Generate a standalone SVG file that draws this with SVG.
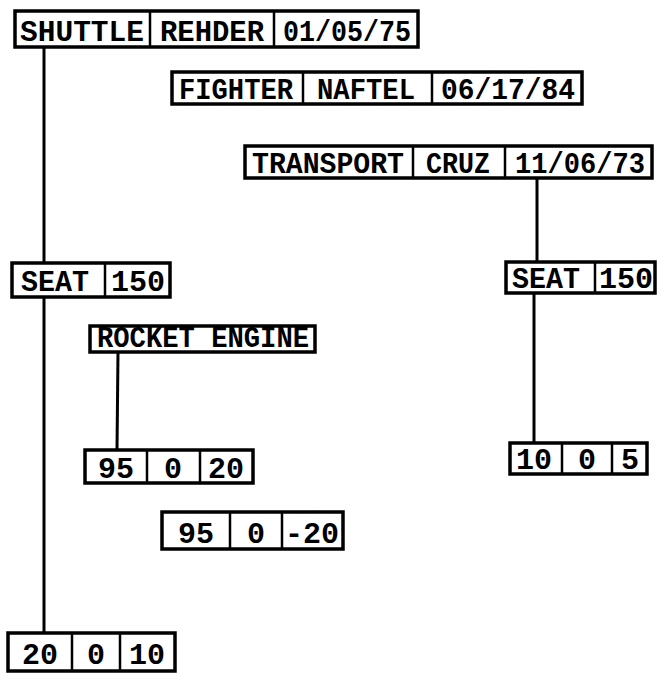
<svg xmlns="http://www.w3.org/2000/svg" width="660" height="674" viewBox="0 0 660 674">
<style>
.b{fill:#fff;stroke:#000;stroke-width:3.5}
.d{stroke:#000;stroke-width:2.5}
.t{font-family:"Liberation Mono","DejaVu Sans Mono",monospace;font-size:30px;font-weight:bold;fill:#000;text-anchor:middle}
.c{stroke:#000;stroke-width:3;fill:none}
</style>
<rect width="660" height="674" fill="#fff"/>
<g id="connectors">
<line class="c" x1="44" y1="47" x2="44" y2="263"/>
<line class="c" x1="44" y1="297" x2="44" y2="633"/>
<line class="c" x1="118" y1="352" x2="117" y2="450"/>
<line class="c" x1="537" y1="178" x2="537" y2="262"/>
<line class="c" x1="534" y1="293" x2="534" y2="443"/>
</g>
<g id="shuttle">
<rect class="b" x="15" y="11" width="403" height="36"/>
<line class="d" x1="150" y1="11" x2="150" y2="47"/><line class="d" x1="274" y1="11" x2="274" y2="47"/>
<text class="t" x="82" y="41" textLength="124" lengthAdjust="spacingAndGlyphs">SHUTTLE</text><text class="t" x="212" y="41" textLength="104" lengthAdjust="spacingAndGlyphs">REHDER</text><text class="t" x="347" y="41" textLength="128" lengthAdjust="spacingAndGlyphs">01/05/75</text>
</g>
<g id="fighter">
<rect class="b" x="172" y="72" width="410" height="32"/>
<line class="d" x1="303" y1="72" x2="303" y2="104"/><line class="d" x1="432" y1="72" x2="432" y2="104"/>
<text class="t" x="236" y="99" textLength="114" lengthAdjust="spacingAndGlyphs">FIGHTER</text><text class="t" x="366" y="99" textLength="98" lengthAdjust="spacingAndGlyphs">NAFTEL</text><text class="t" x="508" y="99" textLength="134" lengthAdjust="spacingAndGlyphs">06/17/84</text>
</g>
<g id="transport">
<rect class="b" x="245" y="146" width="407" height="32"/>
<line class="d" x1="413" y1="146" x2="413" y2="178"/><line class="d" x1="505" y1="146" x2="505" y2="178"/>
<text class="t" x="328" y="173" textLength="152" lengthAdjust="spacingAndGlyphs">TRANSPORT</text><text class="t" x="458" y="173" textLength="64" lengthAdjust="spacingAndGlyphs">CRUZ</text><text class="t" x="580" y="173" textLength="130" lengthAdjust="spacingAndGlyphs">11/06/73</text>
</g>
<g id="seat-left">
<rect class="b" x="12" y="263" width="158" height="34"/>
<line class="d" x1="105" y1="263" x2="105" y2="297"/>
<text class="t" x="55" y="291" textLength="68" lengthAdjust="spacingAndGlyphs">SEAT</text><text class="t" x="138" y="291">150</text>
</g>
<g id="seat-right">
<rect class="b" x="506" y="262" width="149" height="31"/>
<line class="d" x1="595" y1="262" x2="595" y2="293"/>
<text class="t" x="546" y="288" textLength="68" lengthAdjust="spacingAndGlyphs">SEAT</text><text class="t" x="626" y="288">150</text>
</g>
<g id="rocket-engine">
<rect class="b" x="90" y="326" width="225" height="26"/>
<text class="t" x="203" y="347" textLength="212" lengthAdjust="spacingAndGlyphs">ROCKET ENGINE</text>
</g>
<g id="pos-95-0-20">
<rect class="b" x="85" y="450" width="168" height="33"/>
<line class="d" x1="147" y1="450" x2="147" y2="483"/><line class="d" x1="200" y1="450" x2="200" y2="483"/>
<text class="t" x="116" y="478">95</text><text class="t" x="173" y="478">0</text><text class="t" x="226" y="478">20</text>
</g>
<g id="pos-95-0-m20">
<rect class="b" x="162" y="512" width="181" height="37"/>
<line class="d" x1="230" y1="512" x2="230" y2="549"/><line class="d" x1="282" y1="512" x2="282" y2="549"/>
<text class="t" x="196" y="543">95</text><text class="t" x="256" y="543">0</text><text class="t" x="312" y="543">-20</text>
</g>
<g id="pos-20-0-10">
<rect class="b" x="8" y="633" width="167" height="38"/>
<line class="d" x1="72" y1="633" x2="72" y2="671"/><line class="d" x1="120" y1="633" x2="120" y2="671"/>
<text class="t" x="40" y="664">20</text><text class="t" x="96" y="664">0</text><text class="t" x="147" y="664">10</text>
</g>
<g id="pos-10-0-5">
<rect class="b" x="510" y="443" width="137" height="31"/>
<line class="d" x1="562" y1="443" x2="562" y2="474"/><line class="d" x1="612" y1="443" x2="612" y2="474"/>
<text class="t" x="534" y="469">10</text><text class="t" x="587" y="469">0</text><text class="t" x="630" y="469">5</text>
</g>
</svg>
